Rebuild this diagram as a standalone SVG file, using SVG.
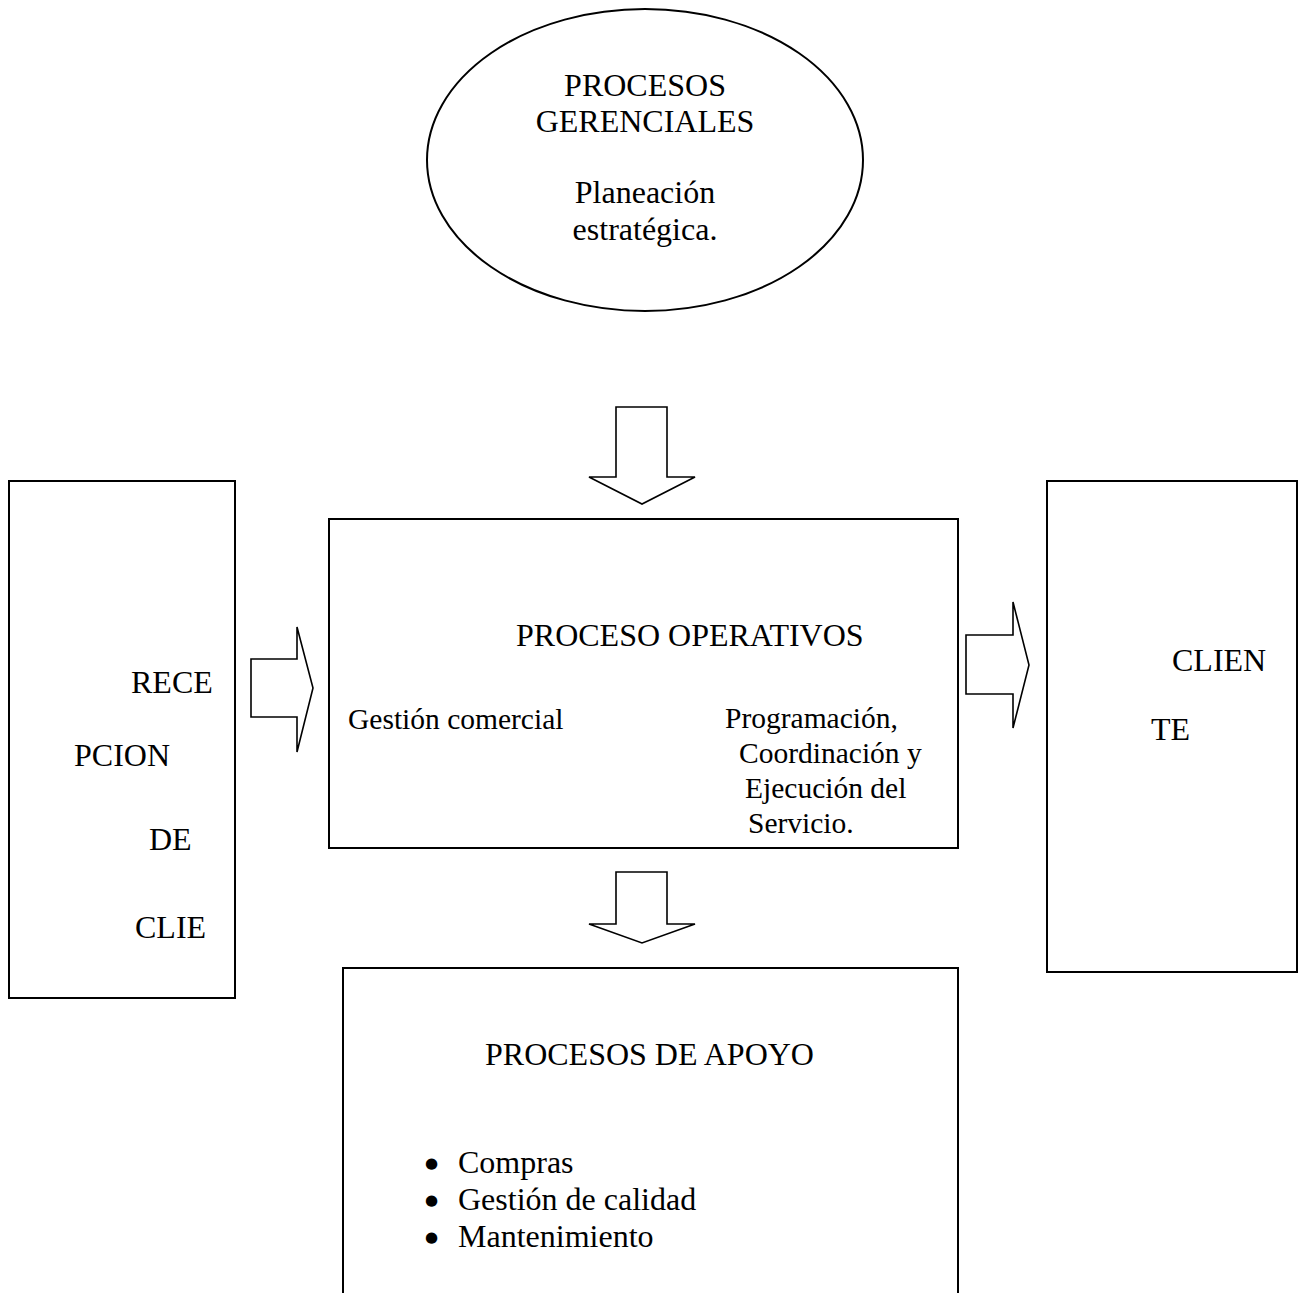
<svg xmlns="http://www.w3.org/2000/svg" width="1299" height="1293" viewBox="0 0 1299 1293">
<style>
.box{fill:#fff;stroke:#000;stroke-width:2}
.arr{fill:#fff;stroke:#000;stroke-width:1.6;stroke-linejoin:miter}
text{font-family:"Liberation Serif","Times New Roman",serif;font-size:32px;fill:#000}
.c{text-anchor:middle}
.s{font-size:29.5px}
.b{font-family:"DejaVu Sans",sans-serif;font-size:15px}
</style>
<rect width="1299" height="1293" fill="#fff"/>
<g id="gerenciales">
<ellipse class="box" cx="645" cy="160" rx="218" ry="151"/>
<text class="c" x="645" y="96">PROCESOS</text>
<text class="c" x="645" y="132">GERENCIALES</text>
<text class="c" x="645" y="203">Planeación</text>
<text class="c" x="645" y="240">estratégica.</text>
</g>
<g id="recepcion">
<rect class="box" x="9" y="481" width="226" height="517"/>
<text x="131" y="693">RECE</text>
<text x="74" y="766">PCION</text>
<text x="149" y="850">DE</text>
<text x="135" y="938">CLIE</text>
</g>
<g id="operativos">
<rect class="box" x="329" y="519" width="629" height="329"/>
<text x="516" y="646">PROCESO OPERATIVOS</text>
<text class="s" x="348" y="729">Gestión comercial</text>
<text class="s" x="725" y="728">Programación,</text>
<text class="s" x="739" y="763">Coordinación y</text>
<text class="s" x="745" y="798">Ejecución del</text>
<text class="s" x="748" y="833">Servicio.</text>
</g>
<g id="cliente">
<rect class="box" x="1047" y="481" width="250" height="491"/>
<text x="1172" y="671">CLIEN</text>
<text x="1151" y="740">TE</text>
</g>
<g id="apoyo">
<rect class="box" x="343" y="968" width="615" height="340"/>
<text x="485" y="1065">PROCESOS DE APOYO</text>
<text class="b" x="425" y="1168">●</text>
<text x="458" y="1173">Compras</text>
<text class="b" x="425" y="1205">●</text>
<text x="458" y="1210">Gestión de calidad</text>
<text class="b" x="425" y="1242">●</text>
<text x="458" y="1247">Mantenimiento</text>
</g>
<g id="connectors">
<polygon class="arr" points="616,407 667,407 667,477 695,477 642,504 589,477 616,477"/>
<polygon class="arr" points="251,659 297,659 297,627 313,688 297,752 297,717 251,717"/>
<polygon class="arr" points="966,635 1013,635 1013,602 1029,665 1013,728 1013,694 966,694"/>
<polygon class="arr" points="616,872 667,872 667,924 695,924 642,943 589,924 616,924"/>
</g>
</svg>
